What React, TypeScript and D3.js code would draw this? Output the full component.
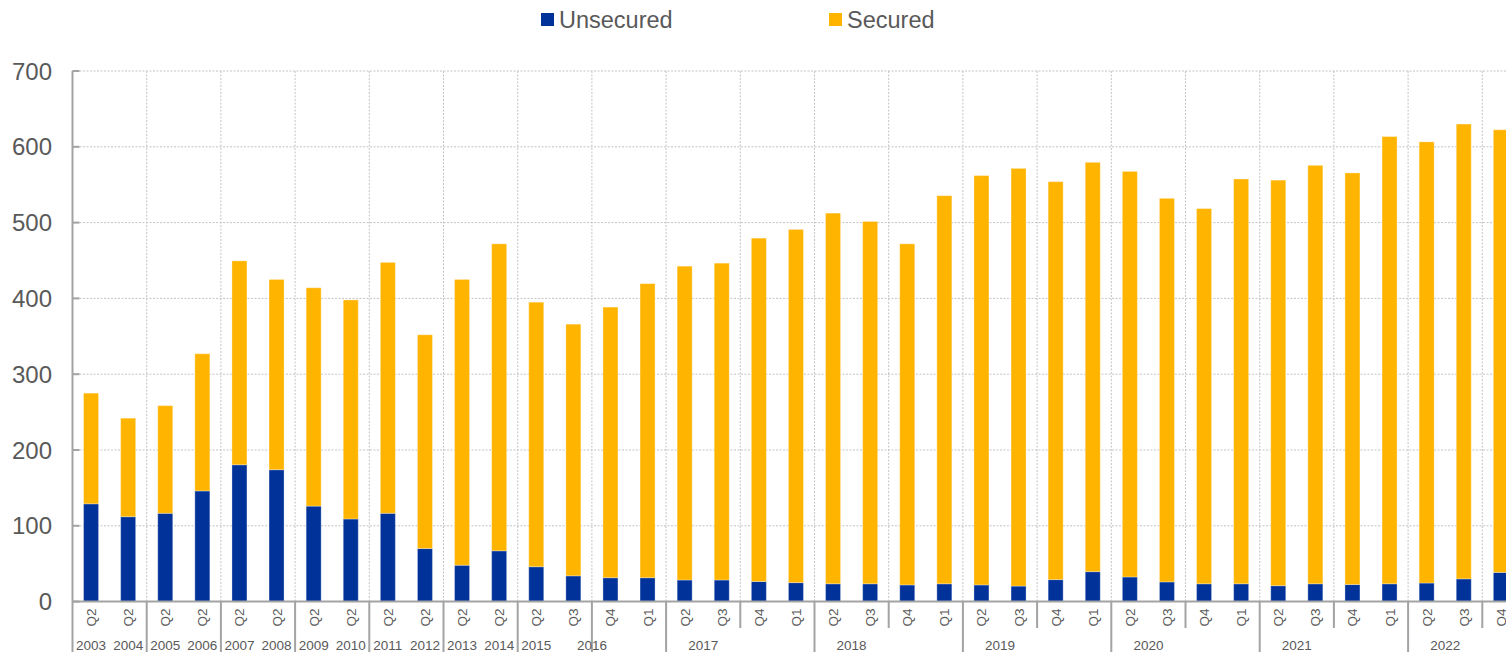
import { useEffect, useRef } from "react";
import * as d3 from "d3";

// quarter labels for each bar (annual points first, then quarterly)
const quarters = [
  "Q2", "Q2", "Q2", "Q2", "Q2", "Q2", "Q2", "Q2", "Q2", "Q2", "Q2", "Q2",
  "Q2", "Q3", "Q4", "Q1",
  "Q2", "Q3", "Q4", "Q1",
  "Q2", "Q3", "Q4", "Q1",
  "Q2", "Q3", "Q4", "Q1",
  "Q2", "Q3", "Q4", "Q1",
  "Q2", "Q3", "Q4", "Q1",
  "Q2", "Q3", "Q4",
];

const yearNames = [
  "2003", "2004", "2005", "2006", "2007", "2008", "2009", "2010", "2011", "2012",
  "2013", "2014", "2015", "2016", "2017", "2018", "2019", "2020", "2021", "2022",
];
// how many categories each year label groups
const yearSpans = [1, 1, 1, 1, 1, 1, 1, 1, 1, 1, 1, 1, 2, 2, 4, 4, 4, 4, 4, 4];

const unsecured = [
  129, 112, 116.5, 146, 180.5, 174, 126, 109, 116.5, 70, 48, 67,
  46, 34, 31.5, 31.5, 28.5, 28.5, 26.5, 25, 23.5, 23.5, 22, 23.5,
  22, 20.5, 29, 39.5, 32.5, 26, 23.5, 23.5, 21, 23.5, 22.5, 23.5,
  24.5, 30, 38.5,
];

const secured = [
  146, 130, 142, 181, 269, 251, 288, 289, 331, 282, 377, 405,
  349, 332, 357, 388, 414, 418, 453, 466, 489, 478, 450, 512,
  540, 551, 525, 540, 535, 506, 495, 534, 535, 552, 543, 590,
  582, 600, 584,
];

const yTicks = [0, 100, 200, 300, 400, 500, 600, 700];

const seriesKeys = ["unsecured", "secured"] as const;
const seriesNames = ["Unsecured", "Secured"];
const seriesColors = ["#003299", "#ffb400"];

const W = 1506;
const H = 652;
const FONT = "'Liberation Sans', Arial, sans-serif";
const TEXT = "#595959";
const AXIS = "#a3a3a3";

const App = () => {
  const svgRef = useRef<SVGSVGElement>(null);

  useEffect(() => {
    if (!svgRef.current) return;
    const svg = d3.select(svgRef.current);
    svg.selectAll("*").remove();

    const n = quarters.length;
    const plotLeft = 72.5;
    const step = 37.1;
    const top = 71;
    const bottom = 601.6;

    const x = d3
      .scaleBand<number>()
      .domain(d3.range(n))
      .range([plotLeft, plotLeft + n * step])
      .paddingInner(0.596)
      .paddingOuter(0.298);
    const y = d3.scaleLinear().domain([0, 700]).range([bottom, top]);
    const bw = x.bandwidth();

    const rows = quarters.map((q, i) => ({
      i,
      unsecured: unsecured[i],
      secured: secured[i],
    }));
    const stacked = d3.stack<any>().keys(seriesKeys as any)(rows);

    // horizontal grid
    svg
      .append("g")
      .selectAll("line")
      .data(yTicks.filter((t) => t > 0))
      .join("line")
      .attr("x1", plotLeft)
      .attr("x2", W)
      .attr("y1", (d) => y(d))
      .attr("y2", (d) => y(d))
      .attr("stroke", "#c4c4c4")
      .attr("stroke-dasharray", "2 1.5");

    // vertical grid, every two categories
    const evenBounds = d3.range(0, n, 2);
    svg
      .append("g")
      .selectAll("line")
      .data(evenBounds.filter((k) => k > 0))
      .join("line")
      .attr("x1", (k) => plotLeft + k * step)
      .attr("x2", (k) => plotLeft + k * step)
      .attr("y1", top)
      .attr("y2", bottom)
      .attr("stroke", "#c4c4c4")
      .attr("stroke-dasharray", "2 1.5");

    // bars
    stacked.forEach((layer, si) => {
      svg
        .append("g")
        .selectAll("rect")
        .data(layer)
        .join("rect")
        .attr("x", (d: any) => x(d.data.i)!)
        .attr("y", (d) => y(d[1]))
        .attr("width", bw)
        .attr("height", (d) => y(d[0]) - y(d[1]))
        .attr("fill", seriesColors[si])
        .attr("stroke", "rgba(255,255,255,0.3)")
        .attr("stroke-width", 1);
    });

    // y axis
    svg
      .append("line")
      .attr("x1", plotLeft)
      .attr("x2", plotLeft)
      .attr("y1", top)
      .attr("y2", bottom)
      .attr("stroke", AXIS)
      .attr("stroke-width", 2);
    const yg = svg.append("g");
    yTicks.forEach((t) => {
      yg.append("line")
        .attr("x1", plotLeft)
        .attr("x2", plotLeft + 7)
        .attr("y1", y(t))
        .attr("y2", y(t))
        .attr("stroke", AXIS)
        .attr("stroke-width", 2);
      yg.append("text")
        .attr("x", 52)
        .attr("y", y(t))
        .attr("text-anchor", "end")
        .attr("dominant-baseline", "central")
        .style("font-family", FONT)
        .style("font-size", "24px")
        .style("fill", TEXT)
        .text(t);
    });

    // x axis line
    svg
      .append("line")
      .attr("x1", plotLeft)
      .attr("x2", W)
      .attr("y1", bottom)
      .attr("y2", bottom)
      .attr("stroke", AXIS)
      .attr("stroke-width", 2);

    // group starts for the year row
    const groupStarts: number[] = [];
    let acc = 0;
    yearSpans.forEach((s) => {
      groupStarts.push(acc);
      acc += s;
    });

    // category separators
    svg
      .append("g")
      .selectAll("line")
      .data(evenBounds)
      .join("line")
      .attr("x1", (k) => plotLeft + k * step)
      .attr("x2", (k) => plotLeft + k * step)
      .attr("y1", bottom)
      .attr("y2", (k) => (groupStarts.includes(k) ? H : 628))
      .attr("stroke", AXIS)
      .attr("stroke-width", 2);

    // quarter labels
    svg
      .append("g")
      .selectAll("text")
      .data(quarters)
      .join("text")
      .attr(
        "transform",
        (q, i) => `translate(${x(i)! + bw / 2 + 0.5},617.5) rotate(-90)`
      )
      .attr("text-anchor", "middle")
      .attr("dominant-baseline", "central")
      .style("font-family", FONT)
      .style("font-size", "13.5px")
      .style("fill", TEXT)
      .text((q) => q);

    // year labels
    const yearFs = 13.5;
    let prevRight = -Infinity;
    const yg2 = svg.append("g");
    yearNames.forEach((name, gi) => {
      const start = groupStarts[gi];
      const span = yearSpans[gi];
      let cx =
        span === 1
          ? x(start)! + bw / 2
          : plotLeft + (start + span / 2) * step - step;
      const half = (name.length * 0.556 * yearFs) / 2;
      if (cx - half < prevRight + 7) cx = prevRight + 7 + half;
      prevRight = cx + half;
      yg2
        .append("text")
        .attr("x", cx)
        .attr("y", 650)
        .attr("text-anchor", "middle")
        .style("font-family", FONT)
        .style("font-size", `${yearFs}px`)
        .style("fill", TEXT)
        .text(name);
    });

    // legend
    const legendX = [541, 829];
    const legend = svg.append("g");
    seriesNames.forEach((label, i) => {
      legend
        .append("rect")
        .attr("x", legendX[i])
        .attr("y", 13)
        .attr("width", 13)
        .attr("height", 13)
        .attr("fill", seriesColors[i]);
      legend
        .append("text")
        .attr("x", legendX[i] + 18)
        .attr("y", 28)
        .style("font-family", FONT)
        .style("font-size", "23.5px")
        .style("fill", TEXT)
        .text(label);
    });
  }, []);

  return (
    <svg
      ref={svgRef}
      width={W}
      height={H}
      style={{ position: "absolute", left: 0, top: 0, background: "#fff" }}
    />
  );
};

export default App;
